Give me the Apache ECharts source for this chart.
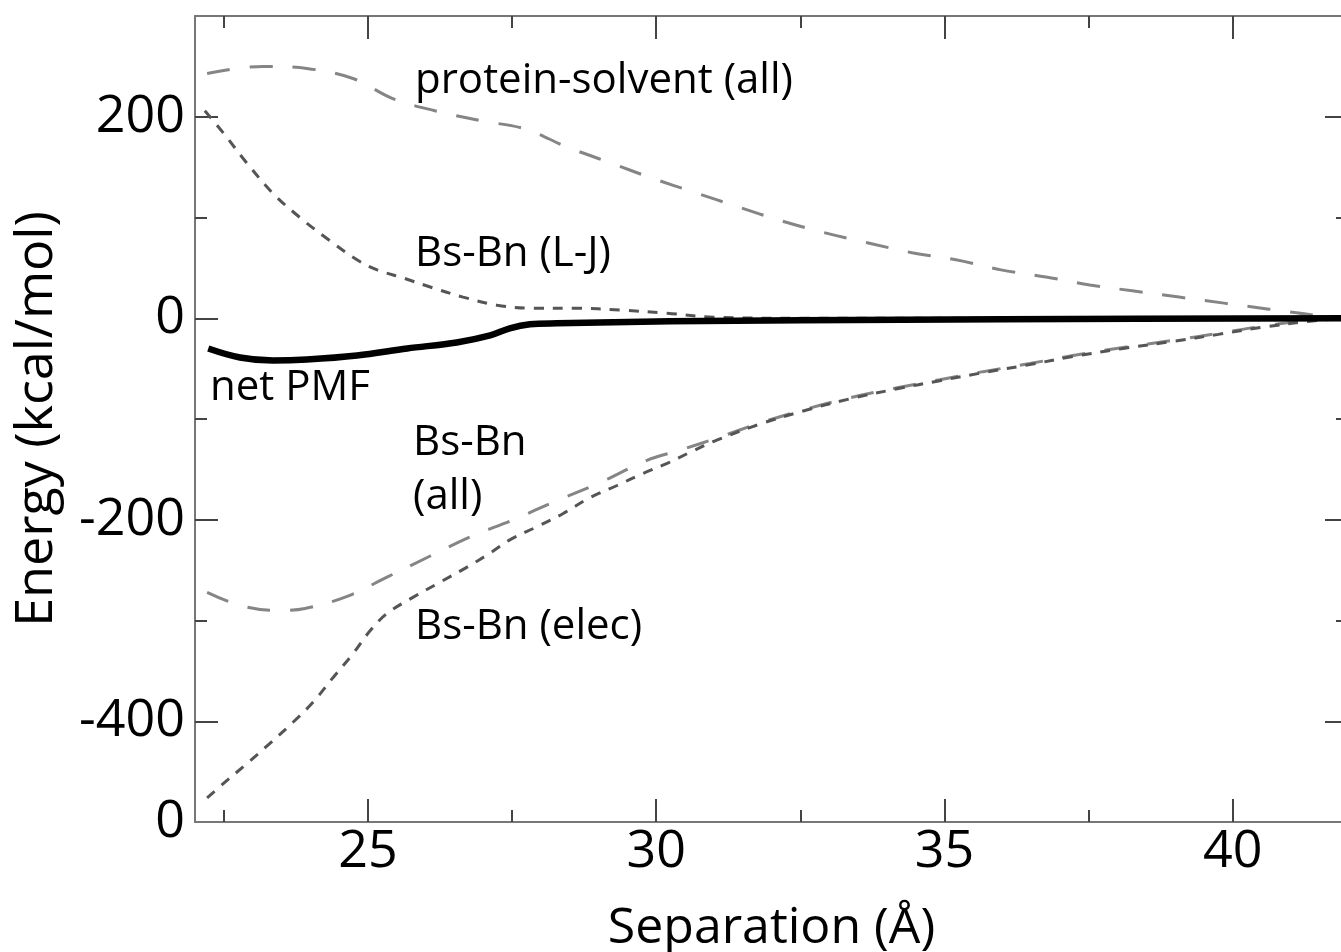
<!DOCTYPE html>
<html>
<head>
<meta charset="utf-8">
<script src="https://cdn.jsdelivr.net/npm/echarts@6/dist/echarts.min.js"></script>
<style>
  html, body { margin: 0; padding: 0; background: #fff; overflow: hidden; }
  #chart { width: 1350px; height: 952px; }
</style>
</head>
<body>
<div id="chart"></div>
<script>
// separation (Å), energy (kcal/mol)
const proteinSolvent = [
  [22.21, 243], [23.18, 250], [23.94, 248], [24.74, 238], [25.43, 218], [26.16, 206],
  [26.96, 196], [27.72, 188], [28.45, 170], [29.22, 154], [29.93, 139], [30.66, 125],
  [31.4, 111], [32.15, 97], [32.91, 85], [33.66, 75], [34.44, 65], [35.2, 58],
  [35.98, 48], [36.76, 41], [37.52, 33], [38.29, 27], [39.07, 21], [39.85, 15],
  [40.63, 9], [41.43, 3], [42, 0]
];
const bsBnLJ = [
  [22.17, 206], [22.49, 184], [22.9, 154], [23.35, 124], [23.82, 100], [24.34, 77],
  [24.81, 58], [25.16, 48], [25.61, 40], [26.08, 31], [26.65, 21], [27.24, 13],
  [27.86, 10], [28.56, 10], [29.42, 8], [30.19, 5], [31.0, 1], [32.5, 0], [35, 0], [42, 0]
];
const netPMF = [
  [22.23, -30], [22.78, -39], [23.35, -42], [23.94, -41], [24.81, -37], [25.68, -30],
  [26.54, -24], [27.12, -17], [27.46, -10], [27.81, -6], [28.28, -5], [30.24, -3],
  [32.5, -2], [36, -1], [42, 0]
];
const bsBnAll = [
  [22.21, -272], [22.78, -285], [23.39, -290], [23.91, -288], [24.64, -276], [25.33, -257],
  [26.08, -236], [26.77, -217], [27.52, -200], [28.28, -181], [29.03, -163], [29.84, -141],
  [30.41, -131], [31.05, -119], [31.8, -104], [32.55, -91], [33.36, -79], [34.18, -69],
  [34.92, -61], [35.67, -53], [36.48, -45], [37.23, -37], [38.1, -29], [38.96, -22],
  [39.75, -15], [40.51, -8], [41.34, -2], [42, 0]
];
const bsBnElec = [
  [22.21, -476], [22.49, -462], [22.9, -442], [23.3, -422], [23.7, -401], [24.05, -381],
  [24.39, -357], [24.74, -333], [25.04, -310], [25.33, -293], [25.78, -277], [26.25, -262],
  [26.72, -247], [27.12, -233], [27.46, -220], [27.93, -207], [28.38, -194], [28.85, -178],
  [29.32, -166], [29.77, -154], [30.19, -144], [30.59, -133], [31.05, -121], [31.8, -105],
  [32.55, -92], [33.36, -80], [34.18, -70], [34.92, -62], [35.67, -54], [36.48, -46],
  [37.23, -38], [38.1, -30], [38.96, -23], [39.75, -16], [40.51, -9], [41.34, -3], [42, 0]
];

// tick positions and labels
const xMajorTicks = [25, 30, 35, 40];
const xMinorTicks = [22.5, 27.5, 32.5, 37.5];
const yMajorTicks = [-400, -200, 0, 200];
const yMinorTicks = [-300, -100, 100];
const yLabelValues = [-500, -400, -200, 0, 200];
const yLabelTexts = ["0", "-400", "-200", "0", "200"];

const font = "'Open Sans', sans-serif";
const lineColor = "#777";
const tickColor = "#444";

function xAxisDef(pos, ticks, len, main) {
  return {
    type: "value", position: pos, min: 22, max: 42,
    axisLine: { show: main, onZero: false, lineStyle: { color: lineColor, width: 2 } },
    axisTick: { show: true, inside: true, length: len, customValues: ticks, lineStyle: { color: tickColor, width: 2 } },
    axisLabel: main && pos === "bottom"
      ? { show: true, customValues: xMajorTicks, fontSize: 52, fontFamily: font, color: "#000", margin: 4 }
      : { show: false },
    splitLine: { show: false },
    name: main && pos === "bottom" ? "Separation (Å)" : "",
    nameLocation: "middle", nameGap: 82,
    nameTextStyle: { fontSize: 50, fontFamily: font, color: "#000" }
  };
}
function yAxisDef(pos, ticks, len, main) {
  return {
    type: "value", position: pos, min: -500, max: 300,
    axisLine: { show: main, onZero: false, lineStyle: { color: lineColor, width: 2 } },
    axisTick: { show: true, inside: true, length: len, customValues: ticks, lineStyle: { color: tickColor, width: 2 } },
    axisLabel: main && pos === "left"
      ? {
          show: true, customValues: yLabelValues, fontSize: 52, fontFamily: font, color: "#000", margin: 10,
          formatter: (v) => yLabelTexts[yLabelValues.indexOf(v)]
        }
      : { show: false },
    splitLine: { show: false },
    name: main && pos === "left" ? "Energy (kcal/mol)" : "",
    nameLocation: "middle", nameGap: 132,
    nameTextStyle: { fontSize: 52, fontFamily: font, color: "#000" }
  };
}

function lineSeries(name, data, color, width, dash) {
  return {
    name: name, type: "line", data: data, smooth: 0.35, showSymbol: false,
    xAxisIndex: 0, yAxisIndex: 0,
    lineStyle: { color: color, width: width, type: dash, cap: "butt" },
    z: dash === "solid" ? 5 : 3
  };
}

function label(text, x, y) {
  return { type: "text", x: x, y: y, style: { text: text, font: "42px " + font, fill: "#000", verticalAlign: "middle" } };
}

const chart = echarts.init(document.getElementById("chart"));
chart.setOption({
  animation: false,
  grid: { left: 195, right: 2, top: 16, bottom: 130, outerBoundsMode: "none", containLabel: false },
  xAxis: [
    xAxisDef("bottom", xMajorTicks, 23, true),
    xAxisDef("bottom", xMinorTicks, 12, false),
    xAxisDef("top", xMajorTicks, 23, true),
    xAxisDef("top", xMinorTicks, 12, false)
  ],
  yAxis: [
    yAxisDef("left", yMajorTicks, 23, true),
    yAxisDef("left", yMinorTicks, 12, false),
    yAxisDef("right", yMajorTicks, 23, true),
    yAxisDef("right", yMinorTicks, 12, false)
  ],
  series: [
    lineSeries("protein-solvent (all)", proteinSolvent, "#858585", 3, [23, 20]),
    lineSeries("Bs-Bn (L-J)", bsBnLJ, "#555", 3, [10, 9]),
    lineSeries("Bs-Bn (all)", bsBnAll, "#858585", 3, [23, 20]),
    lineSeries("Bs-Bn (elec)", bsBnElec, "#555", 3, [10, 9]),
    lineSeries("net PMF", netPMF, "#000", 6.5, "solid")
  ],
  graphic: [
    label("protein-solvent (all)", 415, 81),
    label("Bs-Bn (L-J)", 415, 254),
    label("net PMF", 210, 388),
    label("Bs-Bn", 413, 443),
    label("(all)", 413, 497),
    label("Bs-Bn (elec)", 415, 627)
  ]
});
</script>
</body>
</html>
